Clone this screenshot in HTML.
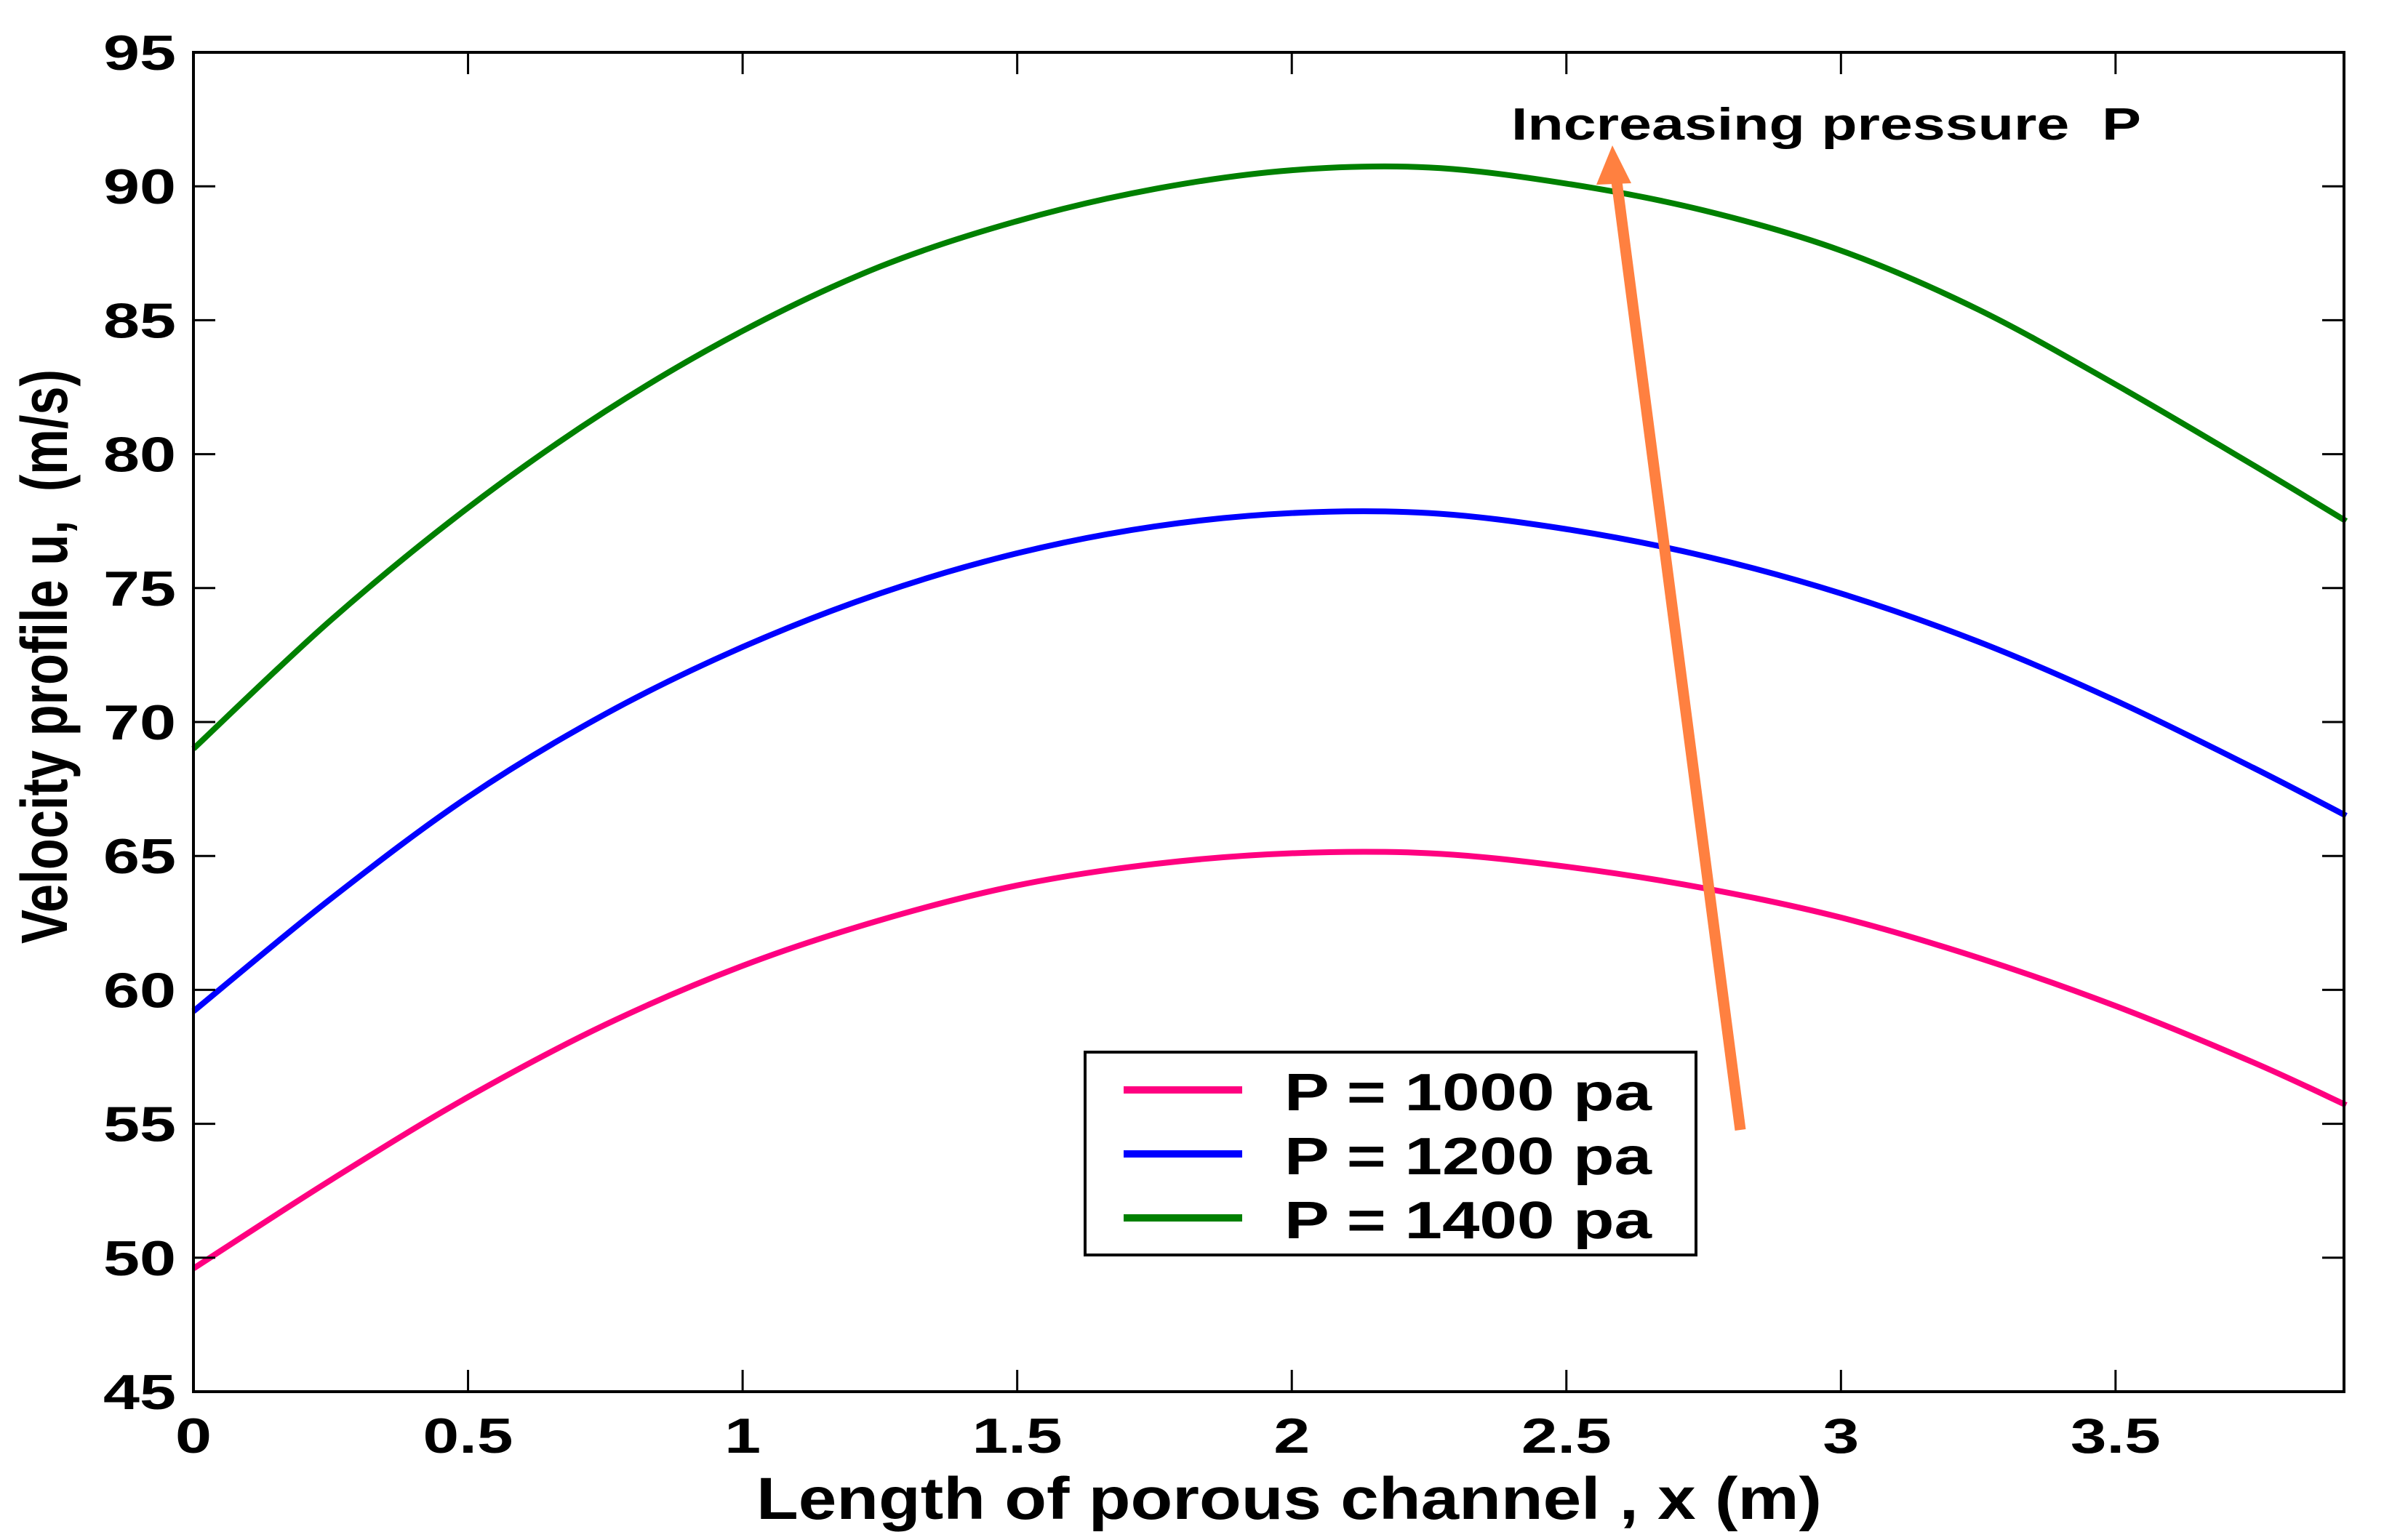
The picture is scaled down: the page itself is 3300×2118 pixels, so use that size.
<!DOCTYPE html>
<html><head><meta charset="utf-8"><style>
html,body{margin:0;padding:0;background:#fff;}
svg{display:block;font-family:"Liberation Sans",Arial,sans-serif;font-weight:bold;}
</style></head><body>
<svg id="chart" width="3300" height="2118" viewBox="0 0 3300 2118" xmlns="http://www.w3.org/2000/svg">
<rect width="3300" height="2118" fill="#fff"/>
<g id="curves"></g>
<g id="axes"></g>
<text transform="translate(92,903) rotate(-90)" text-anchor="middle" font-size="90" textLength="790" lengthAdjust="spacingAndGlyphs">Velocity profile u,&#160; (m/s)</text>
<text x="1040" y="2089" font-size="82" textLength="1465" lengthAdjust="spacingAndGlyphs">Length of porous channel , x (m)</text>
<g>
<line x1="2393" y1="1554" x2="2223" y2="250" stroke="#FF8040" stroke-width="15"/>
<polygon points="2217,200 2195,254 2243,252" fill="#FF8040"/>
<text x="2078" y="192" font-size="62" textLength="866" lengthAdjust="spacingAndGlyphs">Increasing pressure&#160; P</text>
</g>
<g>
<rect x="1492" y="1447" width="840" height="279" fill="#fff" stroke="#000" stroke-width="4"/>
<line x1="1545" y1="1499" x2="1708" y2="1499" stroke="#FF0080" stroke-width="10"/>
<line x1="1545" y1="1587" x2="1708" y2="1587" stroke="#0000FF" stroke-width="10"/>
<line x1="1545" y1="1675" x2="1708" y2="1675" stroke="#008000" stroke-width="10"/>
<text x="1766" y="1527" font-size="72" textLength="505" lengthAdjust="spacingAndGlyphs">P = 1000 pa</text>
<text x="1766" y="1615" font-size="72" textLength="505" lengthAdjust="spacingAndGlyphs">P = 1200 pa</text>
<text x="1766" y="1703" font-size="72" textLength="505" lengthAdjust="spacingAndGlyphs">P = 1400 pa</text>
</g>
</svg>
<script>
const xs = [0, 0.25, 0.5, 0.75, 1.0, 1.25, 1.5, 1.75, 2.0, 2.25, 2.5, 2.75, 3.0, 3.25, 3.5, 3.75, 3.92];
const p1000 = [49.6, 52.9, 56.0, 58.7, 60.9, 62.6, 63.9, 64.7, 65.1, 65.1, 64.6, 63.8, 62.7, 61.2, 59.4, 57.3, 55.7];
const p1200 = [59.2, 63.4, 67.2, 70.3, 72.8, 74.8, 76.3, 77.3, 77.8, 77.8, 77.2, 76.2, 74.8, 73.0, 70.8, 68.3, 66.5];
const p1400 = [69.0, 73.8, 78.0, 81.6, 84.6, 87.0, 88.7, 89.9, 90.6, 90.7, 90.1, 89.1, 87.6, 85.4, 82.6, 79.6, 77.5];
const xTicks = [0, 0.5, 1, 1.5, 2, 2.5, 3, 3.5];
const xTickLabels = ["0", "0.5", "1", "1.5", "2", "2.5", "3", "3.5"];
const yTicks = [45, 50, 55, 60, 65, 70, 75, 80, 85, 90, 95];
const yTickLabels = ["45", "50", "55", "60", "65", "70", "75", "80", "85", "90", "95"];
const X0 = 266, X1 = 3223, Y0 = 1914, Y1 = 72, XMAX = 3.916;
function sx(v){ return X0 + (v / XMAX) * (X1 - X0); }
function sy(v){ return Y0 - (v - 45) / 50 * (Y0 - Y1); }
const NS = "http://www.w3.org/2000/svg";
function pathFor(ys){
  const pts = xs.map((x,i)=>[sx(x), sy(ys[i])]);
  let d = "M" + pts[0][0] + "," + pts[0][1];
  for(let i=0;i<pts.length-1;i++){
    const p0 = pts[Math.max(0,i-1)], p1 = pts[i], p2 = pts[i+1], p3 = pts[Math.min(pts.length-1,i+2)];
    const c1x = p1[0] + (p2[0]-p0[0])/6, c1y = p1[1] + (p2[1]-p0[1])/6;
    const c2x = p2[0] - (p3[0]-p1[0])/6, c2y = p2[1] - (p3[1]-p1[1])/6;
    d += " C" + c1x + "," + c1y + " " + c2x + "," + c2y + " " + p2[0] + "," + p2[1];
  }
  return d;
}
const curves = document.getElementById("curves");
[[p1000,"#FF0080","curve-p1000"],[p1200,"#0000FF","curve-p1200"],[p1400,"#008000","curve-p1400"]].forEach(s=>{
  const p = document.createElementNS(NS,"path");
  p.setAttribute("d", pathFor(s[0]));
  p.setAttribute("fill","none");
  p.setAttribute("stroke", s[1]);
  p.setAttribute("stroke-width","8");
  
  
  curves.appendChild(p);
});
const axes = document.getElementById("axes");
const frame = document.createElementNS(NS,"rect");
frame.setAttribute("x", X0); frame.setAttribute("y", Y1);
frame.setAttribute("width", X1-X0); frame.setAttribute("height", Y0-Y1);
frame.setAttribute("fill","none"); frame.setAttribute("stroke","#000"); frame.setAttribute("stroke-width","4");


axes.appendChild(frame);
function line(x1,y1,x2,y2,name){
  const l = document.createElementNS(NS,"line");
  l.setAttribute("x1",x1); l.setAttribute("y1",y1); l.setAttribute("x2",x2); l.setAttribute("y2",y2);
  l.setAttribute("stroke","#000"); l.setAttribute("stroke-width","3");
  
  
  axes.appendChild(l);
}
function labelWidth(txt){
  let w = 0;
  for (const c of txt) w += (c === ".") ? 24 : 50;
  return w;
}
function label(x,y,txt,anchor,name){
  const t = document.createElementNS(NS,"text");
  t.setAttribute("x",x); t.setAttribute("y",y); t.setAttribute("text-anchor",anchor);
  t.setAttribute("font-size","68");
  t.setAttribute("textLength", labelWidth(txt));
  t.setAttribute("lengthAdjust","spacingAndGlyphs");
  t.textContent = txt;
  
  
  axes.appendChild(t);
}
xTicks.forEach((v,i)=>{
  const x = sx(v);
  line(x, Y0, x, Y0-30, "x-tick");
  line(x, Y1, x, Y1+30, "x-tick-top");
  label(x, 1998, xTickLabels[i], "middle", "x-tick-label");
});
yTicks.forEach((v,i)=>{
  const y = sy(v);
  line(X0, y, X0+30, y, "y-tick");
  line(X1, y, X1-30, y, "y-tick-right");
  label(242, y+24, yTickLabels[i], "end", "y-tick-label");
});
</script>
</body></html>
